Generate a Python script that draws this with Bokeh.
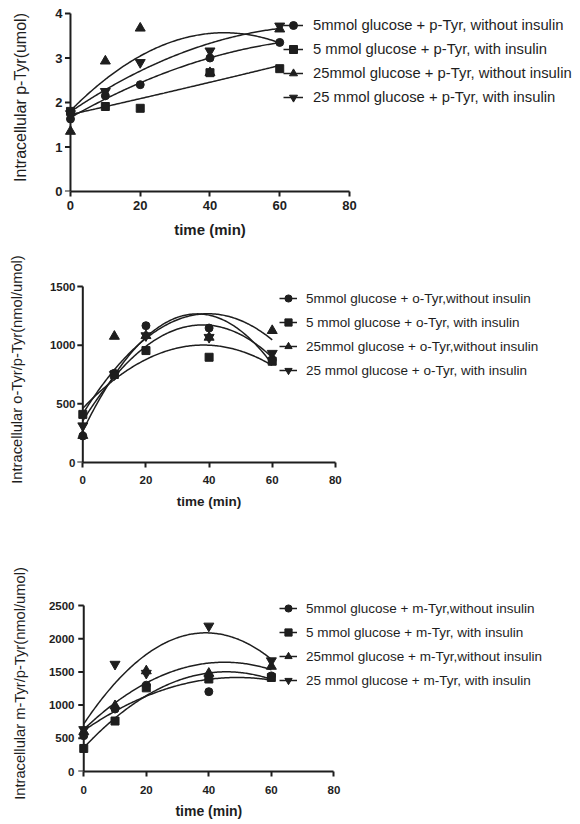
import numpy as np
from bokeh.plotting import figure
from bokeh.models import Range1d, FixedTicker, Legend, LegendItem, Title
from bokeh.embed import file_html
from bokeh.resources import INLINE

# ---------------- data ----------------
time = [0, 10, 20, 40, 60]
x_ticks = [0, 20, 40, 60, 80]
x_title = "time (min)"

# Panel 1: intracellular p-Tyr (umol)
ptyr_5_without = [1.63, 2.15, 2.40, 3.00, 3.35]
ptyr_5_with = [1.80, 1.91, 1.87, 2.67, 2.76]
ptyr_25_without = [1.35, 2.93, 3.67, 2.67, 3.65]
ptyr_25_with = [1.75, 2.25, 2.90, 3.16, 3.72]
ptyr_labels = ["5mmol glucose + p-Tyr, without insulin",
               "5 mmol glucose + p-Tyr, with insulin",
               "25mmol glucose + p-Tyr, without insulin",
               "25 mmol glucose + p-Tyr, with insulin"]
ptyr_yticks = [0, 1, 2, 3, 4]

# Panel 2: o-Tyr/p-Tyr (nmol/umol)
otyr_5_without = [226, 761, 1166, 1146, 875]
otyr_5_with = [410, 750, 954, 897, 863]
otyr_25_without = [230, 1075, 1081, 1067, 1124]
otyr_25_with = [313, 750, 1081, 1067, 931]
otyr_labels = ["5mmol glucose + o-Tyr,without insulin",
               "5 mmol glucose + o-Tyr, with insulin",
               "25mmol glucose + o-Tyr,without insulin",
               "25 mmol glucose + o-Tyr, with insulin"]
otyr_yticks = [0, 500, 1000, 1500]

# Panel 3: m-Tyr/p-Tyr (nmol/umol)
mtyr_5_without = [540, 941, 1300, 1202, 1440]
mtyr_5_with = [347, 760, 1260, 1393, 1416]
mtyr_25_without = [600, 990, 1515, 1478, 1583]
mtyr_25_with = [632, 1616, 1480, 2191, 1668]
mtyr_labels = ["5mmol glucose + m-Tyr,without insulin",
               "5 mmol glucose + m-Tyr, with insulin",
               "25mmol glucose + m-Tyr,without insulin",
               "25 mmol glucose + m-Tyr, with insulin"]
mtyr_yticks = [0, 500, 1000, 1500, 2000, 2500]

markers = ["circle", "square", "triangle", "inverted_triangle"]
marker_sizes = [8, 8, 10, 10]
draw_order = [2, 0, 1, 3]

FONT = "Liberation Sans"
INK = "#1e1e1e"
W = 580
TITLE_EM = 4.778  # width of "time (min)" in em, Liberation Sans Bold


def make_panel(series, labels, yticks, ytitle, height, left, top, fh, ppm,
               tick_fs, xtitle_fs, ytitle_fs, leg_fs, ylab_standoff, ytick_standoff,
               xlab_standoff, xtitle_standoff,
               leg_left, leg_top, leg_glyph_w, leg_standoff, pad=10):
    ymax = yticks[-1]
    x0 = -2
    frame_left = left
    x1 = x0 + (W - left) / ppm          # frame runs to the right edge
    y1 = ymax * (fh + pad) / fh         # a little room above the axis end
    p = figure(width=W, height=height, output_backend="svg",
               toolbar_location=None,
               x_range=Range1d(x0, x1), y_range=Range1d(0, y1),
               min_border_left=left, min_border_right=0,
               min_border_top=top - pad, min_border_bottom=height - top - fh)
    p.outline_line_color = None
    p.xgrid.visible = False
    p.ygrid.visible = False
    p.background_fill_color = "white"
    p.border_fill_color = "white"

    # y axis line at x = 0 and its ticks
    p.segment(x0=[0], x1=[0], y0=[yticks[0]], y1=[yticks[-1]], line_color=INK, line_width=2)
    tick_len = 5.5 / ppm
    p.segment(x0=[-tick_len] * len(yticks), x1=[0] * len(yticks), y0=yticks, y1=yticks,
              line_color=INK, line_width=2)

    xs = np.linspace(0, 60, 151)
    line_r = {}
    scat_r = {}
    for i in draw_order:
        coef = np.polyfit(time, series[i], 2)
        line_r[i] = p.line(xs, np.polyval(coef, xs), line_color=INK, line_width=1.5)
    for i in draw_order:
        scat_r[i] = p.scatter(time, series[i], marker=markers[i], size=marker_sizes[i],
                              fill_color=INK, line_color=INK)

    for ax in (p.xaxis[0], p.yaxis[0]):
        ax.axis_line_width = 2
        ax.axis_line_color = INK
        ax.major_tick_line_width = 2
        ax.major_tick_line_color = INK
        ax.major_tick_in = 0
        ax.major_tick_out = 5
        ax.minor_tick_line_color = None
        ax.major_label_text_font = FONT
        ax.major_label_text_font_style = "bold"
        ax.major_label_text_font_size = tick_fs
        ax.major_label_text_color = INK
        ax.axis_label_text_font = FONT
        ax.axis_label_text_color = INK

    xa = p.xaxis[0]
    xa.ticker = FixedTicker(ticks=x_ticks)
    xa.bounds = (0, 80)
    xa.major_label_standoff = xlab_standoff

    ya = p.yaxis[0]
    ya.ticker = FixedTicker(ticks=yticks)
    ya.axis_line_color = None
    ya.major_tick_line_color = None
    ya.major_tick_out = 0
    ya.major_label_standoff = ytick_standoff
    ya.axis_label = ytitle
    ya.axis_label_text_font_style = "normal"
    ya.axis_label_text_font_size = ytitle_fs
    ya.axis_label_standoff = ylab_standoff

    # x-axis title, centred under the 0-80 axis
    fs = float(xtitle_fs.replace("px", ""))
    centre_px = (0 - x0) * ppm + 40 * ppm
    t = Title(text=x_title, align="left", offset=centre_px - TITLE_EM * fs / 2,
              text_font=FONT, text_font_style="bold", text_font_size=xtitle_fs,
              text_color=INK, standoff=xtitle_standoff)
    p.add_layout(t, "below")

    items = [LegendItem(label=labels[i], renderers=[line_r[i], scat_r[i]]) for i in range(4)]
    n = len(items)
    gh, sp = 20, 4
    leg_h = n * gh + (n - 1) * sp
    leg = Legend(items=items,
                 location=(leg_left - frame_left, fh - (leg_top - top) - leg_h),
                 glyph_width=leg_glyph_w, glyph_height=gh, label_height=gh,
                 spacing=sp, padding=0, margin=0, label_standoff=leg_standoff,
                 border_line_color=None, background_fill_alpha=0,
                 label_text_font=FONT, label_text_font_size=leg_fs,
                 label_text_color=INK)
    p.add_layout(leg, "center")
    return p


p1 = make_panel([ptyr_5_without, ptyr_5_with, ptyr_25_without, ptyr_25_with],
                ptyr_labels, ptyr_yticks, "Intracellular p-Tyr(umol)",
                height=250, left=63, top=13, fh=178, ppm=3.4875,
                tick_fs="13px", xtitle_fs="15px", ytitle_fs="16px", leg_fs="14.8px",
                ylab_standoff=23, ytick_standoff=1, xlab_standoff=4, xtitle_standoff=12,
                leg_left=283, leg_top=15, leg_glyph_w=20, leg_standoff=10)

p2 = make_panel([otyr_5_without, otyr_5_with, otyr_25_without, otyr_25_with],
                otyr_labels, otyr_yticks, "Intracellular o-Tyr/p-Tyr(nmol/umol)",
                height=300, left=76, top=36, fh=176, ppm=3.157,
                tick_fs="11.5px", xtitle_fs="13.5px", ytitle_fs="14.7px", leg_fs="13.5px",
                ylab_standoff=22, ytick_standoff=1, xlab_standoff=8, xtitle_standoff=11,
                leg_left=279, leg_top=38, leg_glyph_w=18, leg_standoff=9)

p3 = make_panel([mtyr_5_without, mtyr_5_with, mtyr_25_without, mtyr_25_with],
                mtyr_labels, mtyr_yticks, "Intracellular m-Tyr/p-Tyr(nmol/umol)",
                height=274, left=77, top=55, fh=166, ppm=3.127,
                tick_fs="11.5px", xtitle_fs="14px", ytitle_fs="14.7px", leg_fs="13.5px",
                ylab_standoff=18, ytick_standoff=3, xlab_standoff=9, xtitle_standoff=9,
                leg_left=279, leg_top=48, leg_glyph_w=18, leg_standoff=9)

open("out.html", "w").write(file_html([p1, p2, p3], INLINE))
